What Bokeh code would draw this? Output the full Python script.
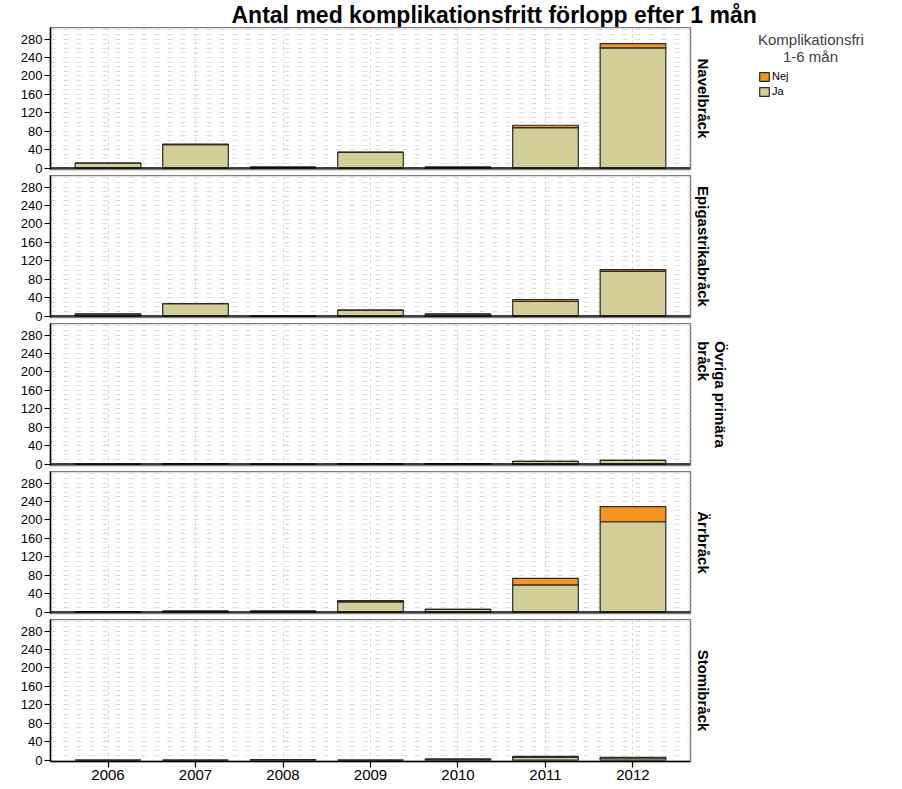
from bokeh.plotting import figure
from bokeh.models import (FactorRange, Range1d, Title, Legend, LegendItem,
                          ColumnDataSource, FixedTicker, Span)
from bokeh.layouts import column, row
from bokeh.embed import file_html
from bokeh.resources import INLINE

years = ["2006", "2007", "2008", "2009", "2010", "2011", "2012"]
panel_labels = ["Navelbråck", "Epigastrikabråck", "Övriga primära\nbråck", "Ärrbråck", "Stomibråck"]
y_ticks = [0, 40, 80, 120, 160, 200, 240, 280]
chart_title = "Antal med komplikationsfritt förlopp efter 1 mån"
legend_title = "Komplikationsfri\n" + "\u00a0" * 6 + "1-6 mån"
series_labels = ["Ja", "Nej"]

ja_navel = [11, 51, 2, 34, 2, 88, 261]
nej_navel = [0, 1, 0, 1, 0, 5, 9]
ja_epi = [4, 27, 0, 13, 4, 32, 97]
nej_epi = [1, 0, 0, 0, 1, 4, 4]
ja_ovriga = [0, 1, 0, 1, 1, 6, 8]
nej_ovriga = [0, 0, 0, 0, 0, 0, 0]
ja_arr = [1, 2, 2, 22, 6, 59, 196]
nej_arr = [0, 0, 0, 3, 0, 14, 33]
ja_stomi = [0, 0, 1, 0, 2, 6, 5]
nej_stomi = [0, 0, 0, 0, 0, 2, 1]

ja_all = [ja_navel, ja_epi, ja_ovriga, ja_arr, ja_stomi]
nej_all = [nej_navel, nej_epi, nej_ovriga, nej_arr, nej_stomi]

FONT = "Liberation Sans"
JA_COLOR = "#D3CE97"
NEJ_COLOR = "#F7941D"
EDGE = "#2a2a2a"
GRID = "#dedede"

x_range = FactorRange(*years, range_padding=0.045)

# title strip
tf = figure(width=886, height=27, output_backend="svg", toolbar_location=None,
            x_axis_location=None, y_axis_location=None,
            x_range=Range1d(0, 1), y_range=Range1d(0, 1),
            min_border_left=0, min_border_right=0, min_border_top=0,
            min_border_bottom=0)
tf.outline_line_color = None
tf.xgrid.visible = False
tf.ygrid.visible = False
tf.title = Title(text=chart_title, align="left", offset=231, text_font=FONT,
                 text_font_size="23px", text_font_style="bold",
                 text_color="black", standoff=0)

figs = []
sources = []
n = len(panel_labels)
for i in range(n):
    last = i == n - 1
    src = ColumnDataSource(dict(year=years, Ja=ja_all[i], Nej=nej_all[i]))
    sources.append(src)
    p = figure(x_range=x_range, y_range=Range1d(-3, 305),
               frame_width=640, frame_height=142,
               output_backend="svg", toolbar_location=None,
               x_axis_location="below" if last else None,
               min_border_left=50, min_border_right=50,
               min_border_top=0,
               min_border_bottom=0 if last else 6)
    p.background_fill_color = "white"
    p.border_fill_color = "white"
    p.outline_line_color = "#7f7f7f"
    p.outline_line_width = 1.5

    p.vbar_stack(series_labels, x="year", width=0.75, source=src,
                 fill_color=[JA_COLOR, NEJ_COLOR], line_color=EDGE,
                 line_width=1.2)

    # y axis
    p.yaxis.ticker = FixedTicker(ticks=y_ticks, minor_ticks=list(range(0, 310, 10)))
    p.yaxis.axis_line_color = "black"
    p.yaxis.axis_line_width = 1.5
    p.yaxis.major_tick_out = 6
    p.yaxis.major_tick_in = 0
    p.yaxis.major_tick_line_width = 1.2
    p.yaxis.minor_tick_line_color = None
    p.yaxis.major_label_text_font = FONT
    p.yaxis.major_label_text_font_size = "13px"
    p.yaxis.major_label_text_color = "black"
    p.yaxis.major_label_standoff = 2

    if last:
        p.xaxis.axis_line_color = "black"
        p.xaxis.axis_line_width = 1.5
        p.xaxis.major_tick_out = 6
        p.xaxis.major_tick_in = 0
        p.xaxis.major_tick_line_width = 1.2
        p.xaxis.major_label_text_font = FONT
        p.xaxis.major_label_text_font_size = "15px"
        p.xaxis.major_label_text_color = "black"
        p.xaxis.major_label_standoff = 2
    else:
        p.add_layout(Span(location=0, dimension="width", line_color="black",
                          line_width=1.5))

    # grids
    p.ygrid.ticker = FixedTicker(ticks=y_ticks, minor_ticks=list(range(0, 310, 10)))
    p.ygrid.grid_line_color = GRID
    p.ygrid.grid_line_dash = "5 8"
    p.ygrid.minor_grid_line_color = GRID
    p.ygrid.minor_grid_line_dash = "5 8"
    p.xgrid.grid_line_color = "#d6d6d6"
    p.xgrid.grid_line_dash = "3 3"

    p.add_layout(Title(text=panel_labels[i], align="center", text_font=FONT,
                       text_font_size="15px", text_font_style="bold",
                       text_color="black", standoff=8), "right")

    figs.append(p)

# legend figure: hidden renderers only provide the legend swatches
lf = figure(width=140, height=120, output_backend="svg", toolbar_location=None,
            x_axis_location=None, y_axis_location=None,
            x_range=x_range, y_range=Range1d(0, 1),
            min_border_left=14, min_border_right=0, min_border_bottom=0,
            min_border_top=0)
lf.outline_line_color = None
lf.xgrid.visible = False
lf.ygrid.visible = False
lrs = lf.vbar_stack(series_labels, x="year", width=0.75, source=sources[0],
                    fill_color=[JA_COLOR, NEJ_COLOR], line_color=EDGE,
                    line_width=1.2, visible=False)
legend = Legend(items=[LegendItem(label=series_labels[1], renderers=[lrs[1]]),
                       LegendItem(label=series_labels[0], renderers=[lrs[0]])],
                title=legend_title, location="top_left")
legend.title_text_font = FONT
legend.title_text_font_size = "15px"
legend.title_text_font_style = "normal"
legend.title_text_color = "#404040"
legend.title_standoff = 5
legend.label_text_font = FONT
legend.label_text_font_size = "11px"
legend.label_text_color = "black"
legend.glyph_width = 12
legend.glyph_height = 11
legend.label_height = 11
legend.label_standoff = 2
legend.spacing = 3
legend.padding = 0
legend.margin = 4
legend.border_line_color = None
legend.background_fill_alpha = 0
lf.add_layout(legend, "center")

layout = column(tf, row(column(*figs, spacing=0), lf, spacing=0), spacing=0)

with open("out.html", "w") as f:
    f.write(file_html(layout, INLINE))
